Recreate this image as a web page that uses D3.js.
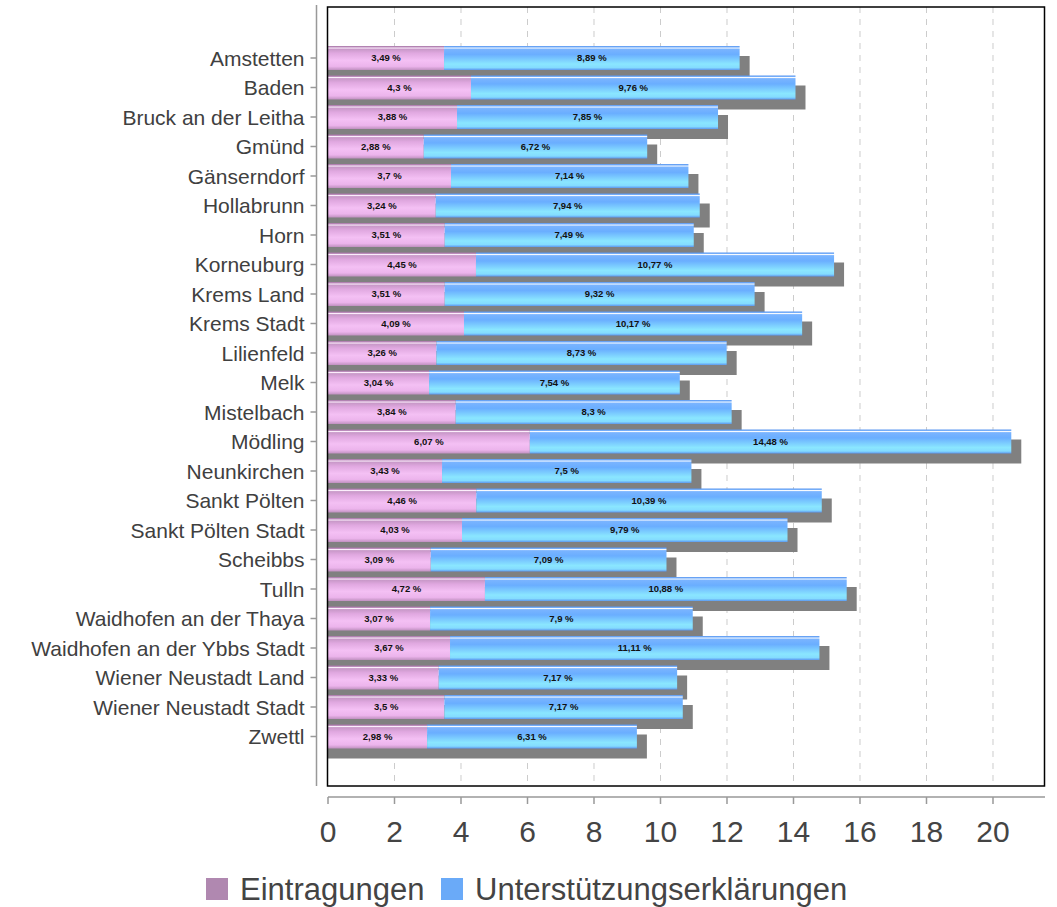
<!DOCTYPE html>
<html>
<head>
<meta charset="utf-8">
<script src="https://cdn.jsdelivr.net/npm/d3@7/dist/d3.min.js"></script>
<style>
  html, body { margin: 0; padding: 0; background: #fff; }
  svg { display: block; font-family: "Liberation Sans", Arial, sans-serif; }
</style>
</head>
<body>
<svg id="chart" width="1057" height="907"></svg>
<script>
const categories = [
  "Amstetten", "Baden", "Bruck an der Leitha", "Gmünd", "Gänserndorf",
  "Hollabrunn", "Horn", "Korneuburg", "Krems Land", "Krems Stadt",
  "Lilienfeld", "Melk", "Mistelbach", "Mödling", "Neunkirchen",
  "Sankt Pölten", "Sankt Pölten Stadt", "Scheibbs", "Tulln",
  "Waidhofen an der Thaya", "Waidhofen an der Ybbs Stadt",
  "Wiener Neustadt Land", "Wiener Neustadt Stadt", "Zwettl"
];
const eintragungen = [
  3.49, 4.3, 3.88, 2.88, 3.7, 3.24, 3.51, 4.45, 3.51, 4.09, 3.26, 3.04,
  3.84, 6.07, 3.43, 4.46, 4.03, 3.09, 4.72, 3.07, 3.67, 3.33, 3.5, 2.98
];
const unterstuetzung = [
  8.89, 9.76, 7.85, 6.72, 7.14, 7.94, 7.49, 10.77, 9.32, 10.17, 8.73, 7.54,
  8.3, 14.48, 7.5, 10.39, 9.79, 7.09, 10.88, 7.9, 11.11, 7.17, 7.17, 6.31
];
const seriesNames = ["Eintragungen", "Unterstützungserklärungen"];
const xTicks = [0, 2, 4, 6, 8, 10, 12, 14, 16, 18, 20];

const svg = d3.select("#chart");
const plot = { left: 328, right: 1045, top: 7, bottom: 786 };

const x = d3.scaleLinear().domain([0, 21.564]).range([plot.left, plot.right]);
const y = d3.scaleBand().domain(categories).range([43.25, 751.25]).padding(0);
const barH = 24;
const shadowOff = 10;

// gradients
const defs = svg.append("defs");
function grad(id, stops) {
  const g = defs.append("linearGradient").attr("id", id)
    .attr("x1", 0).attr("y1", 0).attr("x2", 0).attr("y2", 1);
  stops.forEach(s => g.append("stop").attr("offset", s[0]).attr("stop-color", s[1]));
}
grad("gPink", [
  [0, "#a878a8"], [0.05, "#c090c0"], [0.08, "#fff4ff"], [0.13, "#c898c8"],
  [0.3, "#e0a8e0"], [0.6, "#f4c0f4"], [0.85, "#ecb4ec"], [1, "#c090c0"]
]);
grad("gBlue", [
  [0, "#5c98f0"], [0.05, "#78b0fa"], [0.08, "#ffffff"], [0.13, "#7ab4ff"],
  [0.35, "#6aaeff"], [0.75, "#8ae6ff"], [0.9, "#84dcff"], [1, "#5c98f0"]
]);

// gridlines
svg.append("g").selectAll("line").data(xTicks.filter(d => d > 0)).join("line")
  .attr("x1", d => x(d)).attr("x2", d => x(d))
  .attr("y1", plot.top).attr("y2", plot.bottom)
  .attr("stroke", "#cccccc").attr("stroke-width", 1)
  .attr("stroke-dasharray", "6,6");

const rows = categories.map((c, i) => ({
  c, a: eintragungen[i], b: unterstuetzung[i]
}));

// shadows
svg.append("g").selectAll("rect").data(rows).join("rect")
  .attr("x", x(0))
  .attr("y", d => y(d.c) + y.bandwidth() / 2 - barH / 2 + shadowOff)
  .attr("width", d => x(d.a + d.b) - x(0) + shadowOff)
  .attr("height", barH)
  .attr("fill", "#808080");

// bars
const bars = svg.append("g");
rows.forEach(d => {
  const yy = y(d.c) + y.bandwidth() / 2 - barH / 2;
  bars.append("rect").attr("x", x(0)).attr("y", yy)
    .attr("width", x(d.a) - x(0)).attr("height", barH)
    .attr("fill", "url(#gPink)");
  bars.append("rect").attr("x", x(d.a)).attr("y", yy)
    .attr("width", x(d.a + d.b) - x(d.a)).attr("height", barH)
    .attr("fill", "url(#gBlue)");
});

// value labels
const fmt = v => String(v).replace(".", ",") + " %";
const labels = svg.append("g").attr("font-size", 9.5).attr("font-weight", "bold")
  .attr("fill", "#111").attr("text-anchor", "middle");
rows.forEach(d => {
  const cy = y(d.c) + y.bandwidth() / 2 + 3;
  labels.append("text").attr("x", (x(0) + x(d.a)) / 2).attr("y", cy).text(fmt(d.a));
  labels.append("text").attr("x", (x(d.a) + x(d.a + d.b)) / 2).attr("y", cy).text(fmt(d.b));
});

// plot frame
svg.append("rect").attr("x", plot.left - 0.5).attr("y", plot.top)
  .attr("width", plot.right - plot.left).attr("height", plot.bottom - plot.top)
  .attr("fill", "none").attr("stroke", "#000").attr("stroke-width", 1.5);

// category axis
const yAxis = svg.append("g").attr("transform", "translate(316.5,0)");
yAxis.append("line").attr("x1", 0).attr("x2", 0).attr("y1", 5).attr("y2", 786)
  .attr("stroke", "#999").attr("stroke-width", 1.5);
yAxis.selectAll("line.tick").data(categories).join("line").attr("class", "tick")
  .attr("x1", -6).attr("x2", 0)
  .attr("y1", d => y(d) + y.bandwidth() / 2).attr("y2", d => y(d) + y.bandwidth() / 2)
  .attr("stroke", "#999").attr("stroke-width", 1.5);
yAxis.selectAll("text").data(categories).join("text")
  .attr("x", -12).attr("y", d => y(d) + y.bandwidth() / 2)
  .attr("dy", "0.36em").attr("text-anchor", "end")
  .attr("font-size", 21).attr("fill", "#404040").text(d => d);

// x axis
const xAxisG = svg.append("g").attr("transform", "translate(0,797)");
xAxisG.append("line").attr("x1", plot.left).attr("x2", plot.right)
  .attr("stroke", "#999").attr("stroke-width", 1.5);
xAxisG.selectAll("line.tick").data(xTicks).join("line").attr("class", "tick")
  .attr("x1", d => x(d)).attr("x2", d => x(d)).attr("y1", 0).attr("y2", 7)
  .attr("stroke", "#999").attr("stroke-width", 1.5);
xAxisG.selectAll("text").data(xTicks).join("text")
  .attr("x", d => x(d)).attr("y", 45).attr("text-anchor", "middle")
  .attr("font-size", 30).attr("fill", "#444").text(d => d);

// legend
const legend = svg.append("g");
const legendColors = ["#b088b0", "#6aaaf8"];
const legendX = [206, 441];
seriesNames.forEach((n, i) => {
  legend.append("rect").attr("x", legendX[i]).attr("y", 878)
    .attr("width", 22).attr("height", 22).attr("fill", legendColors[i]);
  legend.append("text").attr("x", legendX[i] + 34).attr("y", 900)
    .attr("font-size", 31).attr("fill", "#444").text(n);
});
</script>
</body>
</html>
